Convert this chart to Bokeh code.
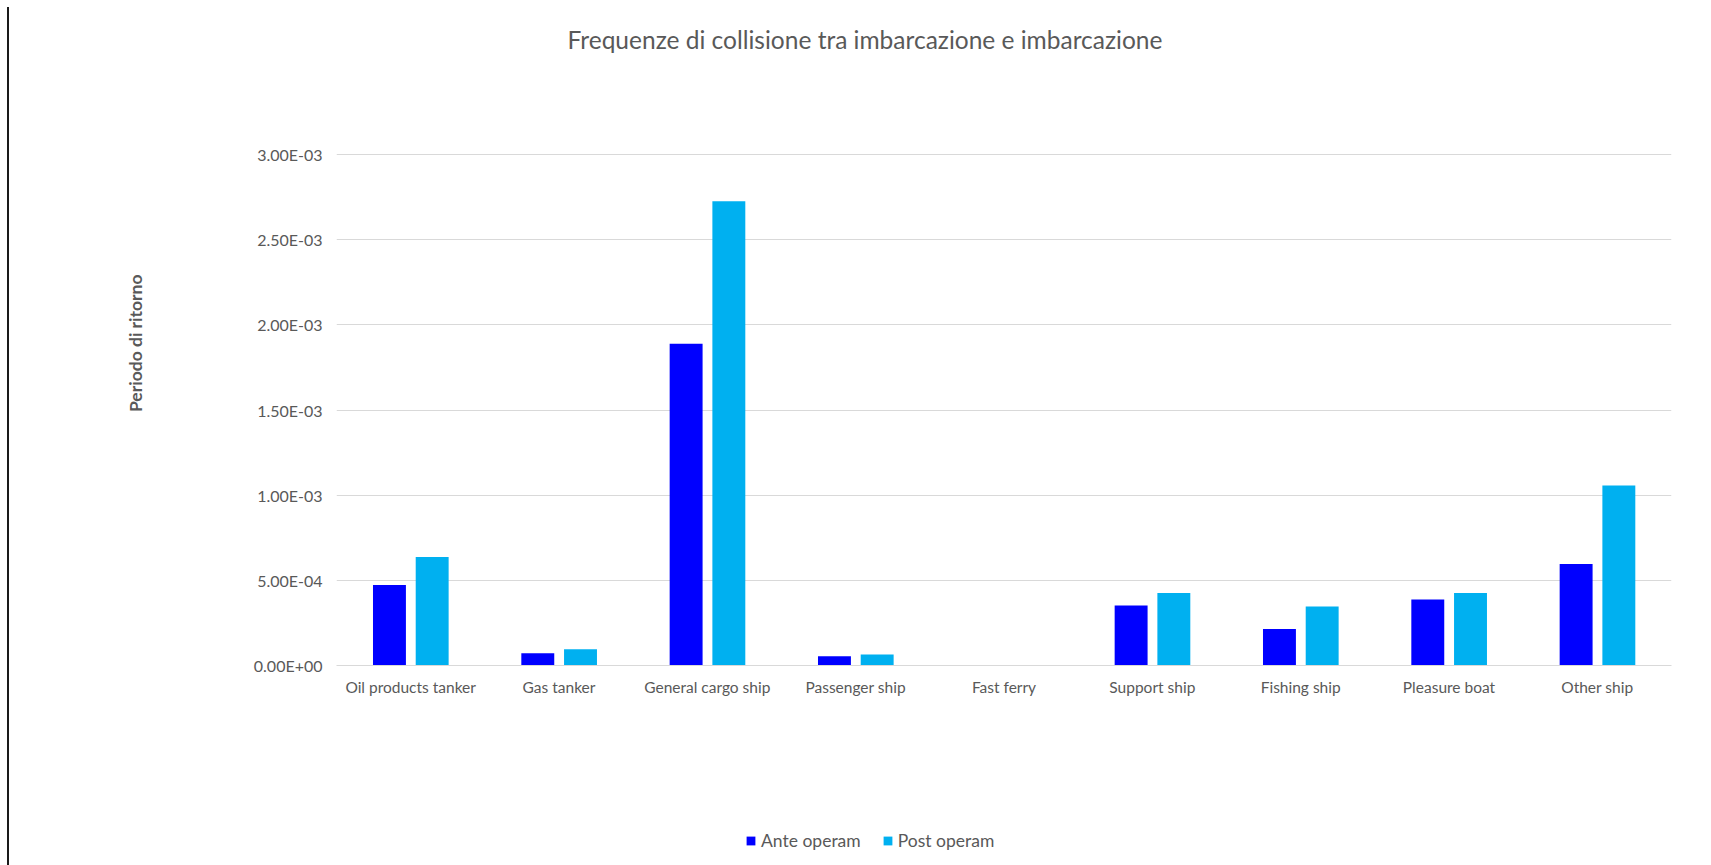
from bokeh.plotting import figure
from bokeh.models import (ColumnDataSource, FactorRange, FixedTicker, Legend, LegendItem,
                          Div, Range1d, Title)
from bokeh.transform import dodge
from bokeh.layouts import row, column
from bokeh.embed import file_html
from bokeh.resources import INLINE

categories = ["Oil products tanker", "Gas tanker", "General cargo ship", "Passenger ship",
              "Fast ferry", "Support ship", "Fishing ship", "Pleasure boat", "Other ship"]
ante_operam = [0.472e-3, 0.072e-3, 1.889e-3, 0.055e-3, 0.0, 0.352e-3, 0.215e-3, 0.387e-3, 0.596e-3]
post_operam = [0.637e-3, 0.095e-3, 2.725e-3, 0.0645e-3, 0.0, 0.425e-3, 0.346e-3, 0.425e-3, 1.057e-3]
y_ticks = [0.0, 0.5e-3, 1.0e-3, 1.5e-3, 2.0e-3, 2.5e-3, 3.0e-3]
y_tick_labels = ["0.00E+00", "5.00E-04", "1.00E-03", "1.50E-03", "2.00E-03", "2.50E-03", "3.00E-03"]
series_names = ["Ante operam", "Post operam"]
series_fields = ["ante", "post"]
series_colors = ["#0000FF", "#00B0F0"]
series_offsets = [-0.143, 0.145]

TITLE = "Frequenze di collisione tra imbarcazione e imbarcazione"
Y_LABEL = "Periodo di ritorno"
TEXT = "#595959"
FONT = "Lato"

src = ColumnDataSource(dict(cat=categories, ante=ante_operam, post=post_operam))
x_range = FactorRange(*categories)

# ---------------- title strip ----------------
tf = figure(width=1702, height=80, x_range=x_range, y_range=Range1d(0, 1),
            x_axis_type=None, y_axis_type=None, output_backend="svg", toolbar_location=None,
            min_border=0, outline_line_color=None, background_fill_color="white",
            border_fill_color="white")
tf.grid.visible = False
tf.title.text = TITLE
tf.title.align = "left"
tf.title.offset = 231
tf.title.text_font = FONT
tf.title.text_font_size = "24.5px"
tf.title.text_font_style = "normal"
tf.title.text_color = TEXT
tf.title.standoff = 45

# ---------------- main chart ----------------
p = figure(x_range=x_range, y_range=Range1d(0, 3.006e-3),
           width=1702, height=735, output_backend="svg", toolbar_location=None,
           min_border_left=327, min_border_right=40, min_border_top=73, min_border_bottom=150,
           outline_line_color=None, background_fill_color="white", border_fill_color="white")

for fld, col, off in zip(series_fields, series_colors, series_offsets):
    p.vbar(x=dodge("cat", off, range=p.x_range), top=fld, width=0.222, source=src,
           fill_color=col, line_color=None)

p.xgrid.grid_line_color = None
p.ygrid.grid_line_color = "#D9D9D9"
p.yaxis.ticker = FixedTicker(ticks=y_ticks)
p.yaxis.major_label_overrides = {t: l for t, l in zip(y_ticks, y_tick_labels)}
p.yaxis.axis_line_color = None
p.yaxis.major_tick_line_color = None
p.yaxis.minor_tick_line_color = None
p.yaxis.major_label_standoff = 8
p.yaxis.major_label_text_font = FONT
p.yaxis.major_label_text_font_size = "16px"
p.yaxis.major_label_text_color = TEXT

p.xaxis.axis_line_color = "#D9D9D9"
p.xaxis.major_tick_line_color = None
p.xaxis.minor_tick_line_color = None
p.xaxis.major_label_standoff = 6
p.xaxis.major_label_text_font = FONT
p.xaxis.major_label_text_font_size = "15.5px"
p.xaxis.major_label_text_color = TEXT

# y-axis title, pushed outward with a large standoff
ylab = Title(text=Y_LABEL, align="right", offset=121, standoff=210,
             text_font=FONT, text_font_style="bold", text_font_size="17.5px", text_color=TEXT)
p.add_layout(ylab, "left")

# ---------------- legend strip ----------------
lg = figure(width=1702, height=50, x_range=x_range, y_range=Range1d(0, 1),
            x_axis_type=None, y_axis_type=None, output_backend="svg", toolbar_location=None,
            min_border=0, outline_line_color=None, background_fill_color="white",
            border_fill_color="white")
lg.grid.visible = False
items = []
for name, fld, col, off in zip(series_names, series_fields, series_colors, series_offsets):
    rr = lg.vbar(x=dodge("cat", off, range=lg.x_range), top=fld, width=0.222, source=src,
                 fill_color=col, line_color=None, visible=False)
    items.append(LegendItem(label=name, renderers=[rr]))
legend = Legend(items=items, location=(409, 14), orientation="horizontal",
                glyph_width=11, glyph_height=11, label_standoff=5, spacing=21,
                padding=0, margin=0, border_line_color=None, background_fill_alpha=0,
                inactive_fill_alpha=0,
                label_text_font=FONT, label_text_font_size="17.5px", label_text_color=TEXT,
                label_height=20)
lg.add_layout(legend)

line = Div(width=2, height=858, margin=(7, 0, 0, 7), styles={"background-color": "#1a1a1a"})
layout = row(line, column(tf, p, lg, spacing=0), spacing=0)

open("out.html", "w").write(file_html(layout, INLINE))
